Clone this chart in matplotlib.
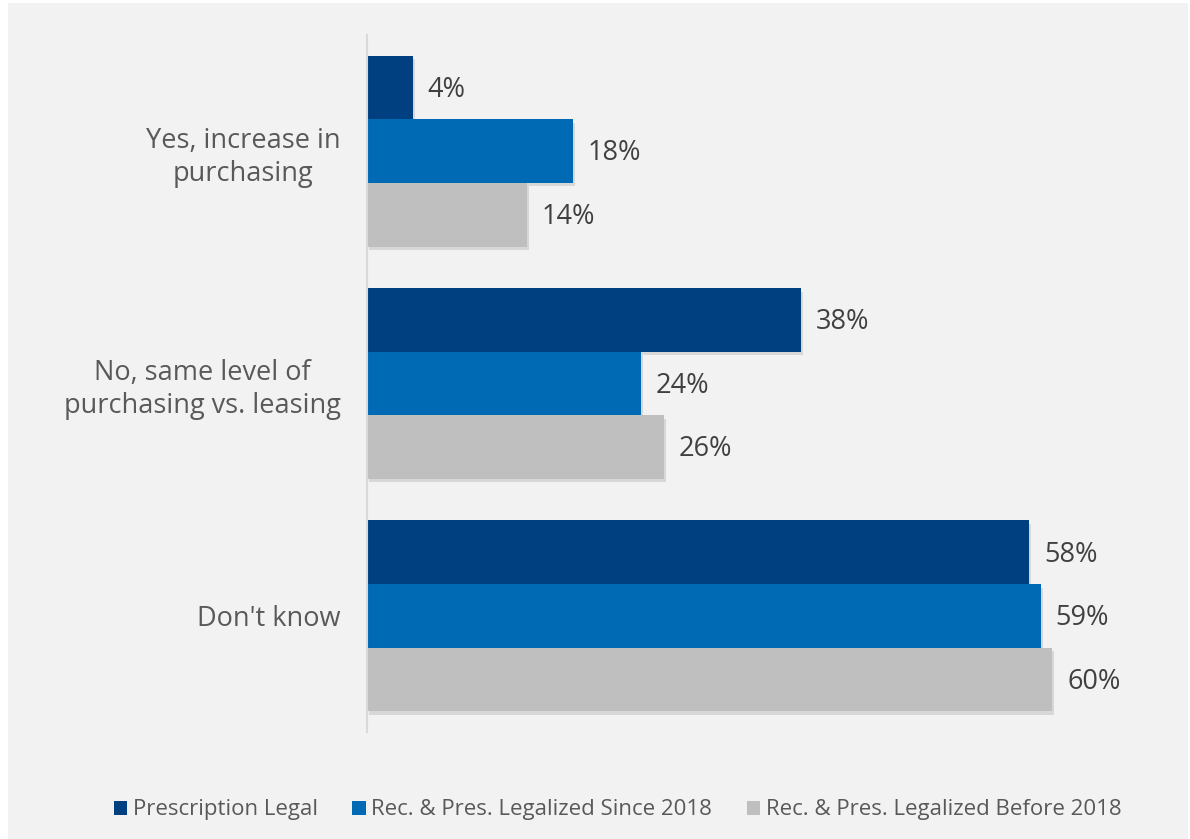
import numpy as np
import matplotlib.pyplot as plt
import matplotlib.patheffects as pe
from matplotlib.patches import Rectangle

plt.rcParams['font.family'] = ['Open Sans', 'DejaVu Sans']

categories = ["Yes, increase in\npurchasing",
              "No, same level of\npurchasing vs. leasing",
              "Don't know"]
series = ["Prescription Legal",
          "Rec. & Pres. Legalized Since 2018",
          "Rec. & Pres. Legalized Before 2018"]
prescription = [4, 38, 58]
since_2018 = [18, 24, 59]
before_2018 = [14, 26, 60]

colores = ['#003F80', '#006AB5', '#BFBFBF']
fondo = '#F2F2F2'

fig = plt.figure(figsize=(11.9, 8.39), dpi=100, facecolor='white')
# fondo gris con un borde blanco fino arriba e izquierda
fig.patches.append(Rectangle((8/1190, 0), 1 - 10/1190, 1 - 3/839,
                             transform=fig.transFigure, facecolor=fondo,
                             edgecolor='none', zorder=-10))

ax = fig.add_axes([367/1190, 1 - 732/839, 783/1190, 697/839])
ax.set_facecolor(fondo)
ax.patch.set_alpha(0)

y = np.arange(len(categories))
h = 0.2737
datos = [prescription, since_2018, before_2018]
sombra = [pe.SimplePatchShadow(offset=(1.5, -2.5), alpha=0.18, shadow_rgbFace='#606060'), pe.Normal()]

for i, (vals, col, nom) in enumerate(zip(datos, colores, series)):
    pos = y + (i - 1) * h
    bars = ax.barh(pos, vals, height=h, color=col, label=nom, zorder=2)
    for b in bars:
        b.set_path_effects(sombra)
    for p, v in zip(pos, vals):
        ax.text(v + 1.3, p + 0.01, f"{v}%", va='center', ha='left',
                fontsize=19.5, color='#404040')

ax.set_ylim(2.5, -0.5)
ax.set_xlim(0, 783/11.42)
ax.set_yticks(y)
ax.set_yticklabels(categories, fontsize=19.5, color='#595959',
                   multialignment='center', linespacing=1.25)
ax.tick_params(axis='y', length=0, pad=19)
ax.set_xticks([])
for s in ['top', 'right', 'bottom']:
    ax.spines[s].set_visible(False)
ax.spines['left'].set_color('#D9D9D9')
ax.spines['left'].set_linewidth(1.5)

leg = fig.legend(loc='center', bbox_to_anchor=(0.519, 1 - 810/839), ncol=3,
                 frameon=False, fontsize=16, handlelength=0.6, handleheight=0.6,
                 handletextpad=0.25, columnspacing=1.55)
for t in leg.get_texts():
    t.set_color('#595959')
for hnd in leg.legend_handles:
    hnd.set_path_effects([])

fig.savefig('out.png', dpi=100, facecolor=fig.get_facecolor())
